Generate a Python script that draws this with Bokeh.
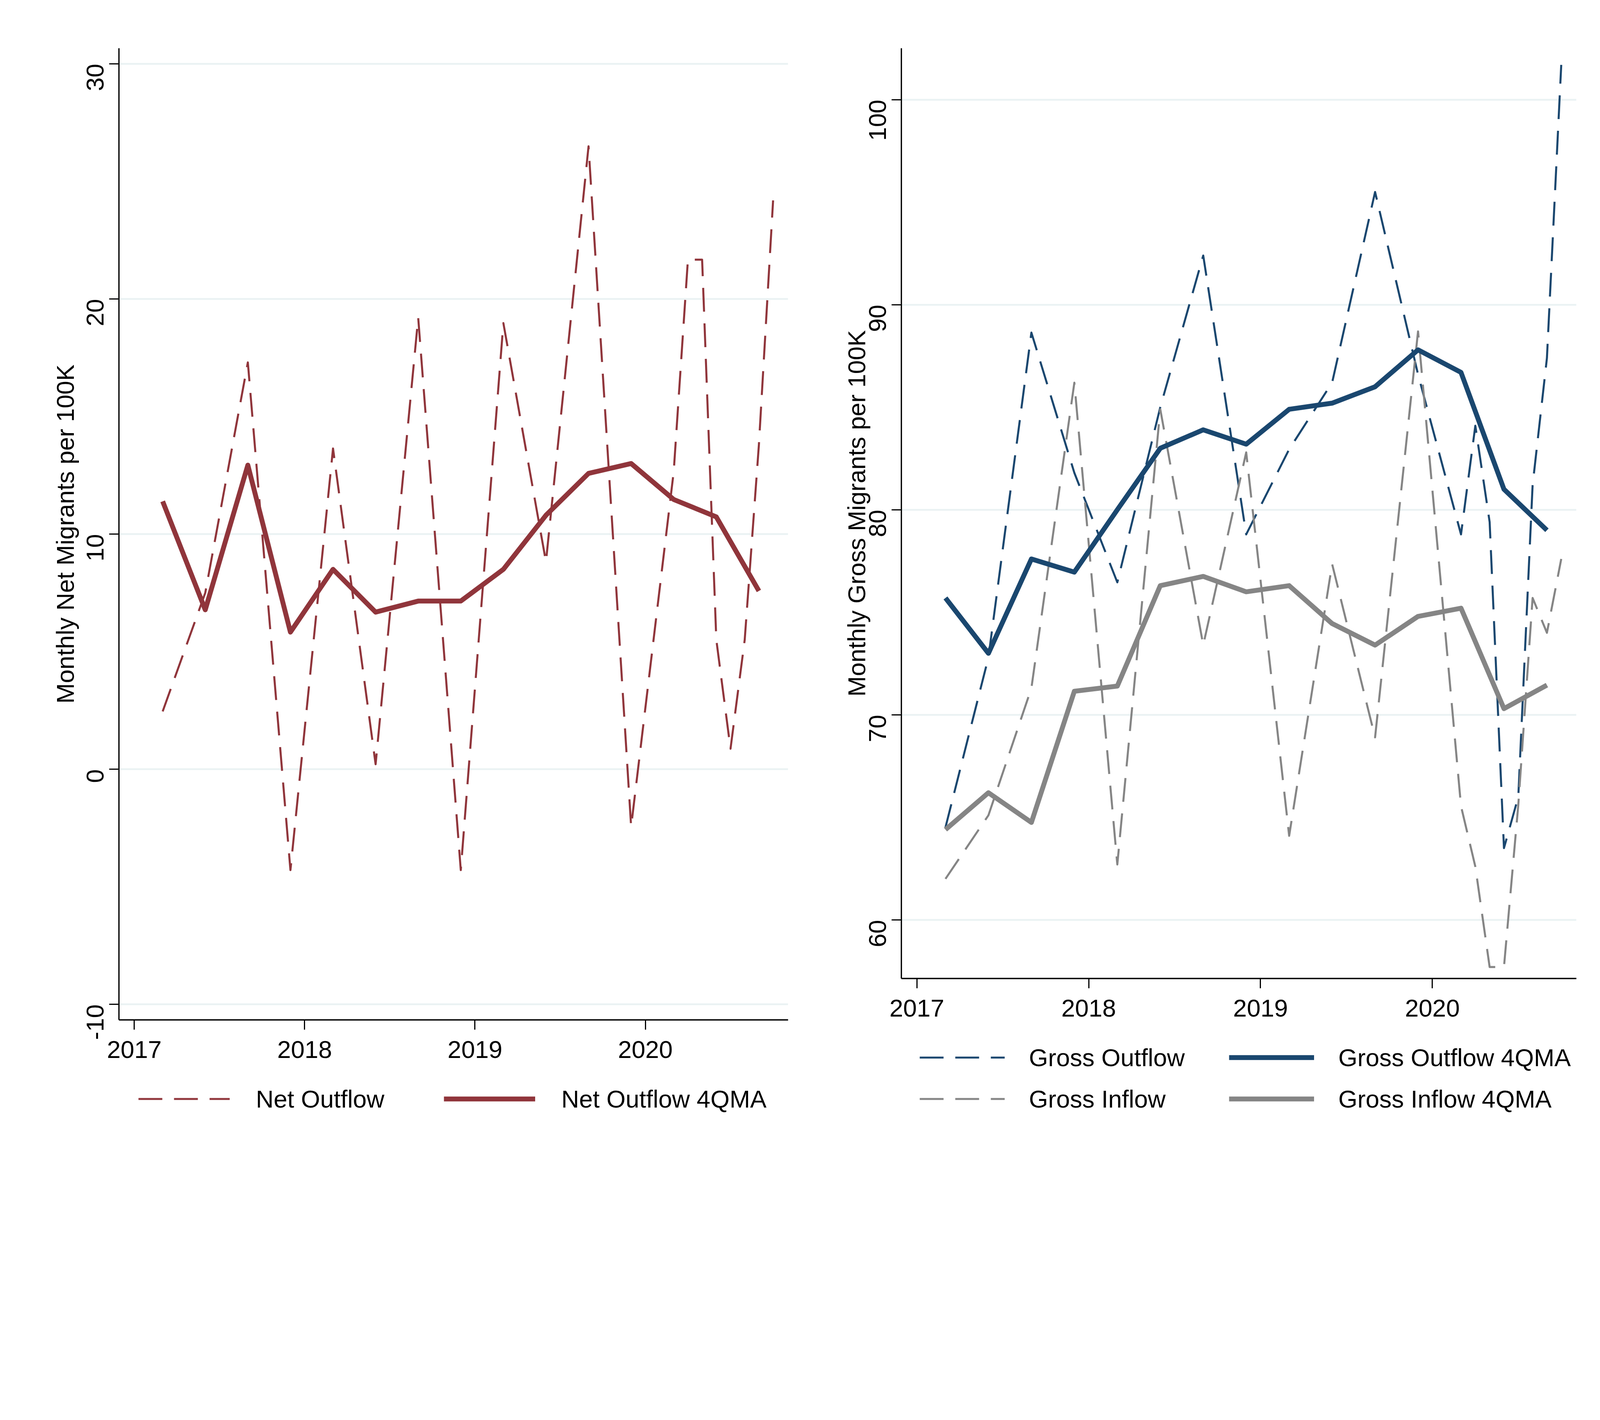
import math
from bokeh.plotting import figure
from bokeh.models import Range1d, FixedTicker, Legend, LegendItem
from bokeh.layouts import row, column
from bokeh.embed import file_html
from bokeh.resources import INLINE

# ---------------- data ----------------
ma_dates = ["2017-03", "2017-06", "2017-09", "2017-12",
            "2018-03", "2018-06", "2018-09", "2018-12",
            "2019-03", "2019-06", "2019-09", "2019-12",
            "2020-03", "2020-06", "2020-09"]

raw_dates = ["2017-03", "2017-06", "2017-09", "2017-12",
             "2018-03", "2018-06", "2018-09", "2018-12",
             "2019-03", "2019-06", "2019-09", "2019-12",
             "2020-03", "2020-04", "2020-05", "2020-06",
             "2020-07", "2020-08", "2020-09", "2020-10"]

net_outflow = [2.46, 7.5, 17.3, -4.29, 13.64, 0.21, 19.2, -4.29,
               18.97, 8.82, 26.49, -2.44, 12.66, 21.67, 21.67, 5.51,
               0.87, 5.5, 13.8, 24.19]
net_outflow_4qma = [11.39, 6.78, 12.93, 5.83, 8.5, 6.68, 7.15, 7.15,
                    8.5, 10.8, 12.58, 13.0, 11.47, 10.73, 7.58]

gross_outflow = [64.51, 72.8, 88.64, 81.8, 76.46, 85.0, 92.4, 78.8,
                 82.95, 86.2, 95.5, 86.6, 78.8, 84.1, 79.4, 63.5,
                 66.0, 81.2, 87.4, 101.7]
gross_inflow = [62.0, 65.1, 71.3, 86.2, 62.7, 84.9, 73.4, 82.8,
                64.1, 77.35, 68.9, 88.7, 65.55, 62.6, 57.7, 57.7,
                65.6, 75.7, 74.0, 77.6]
gross_outflow_4qma = [75.7, 73.0, 77.6, 76.96, 80.0, 83.0, 83.9, 83.2,
                      84.9, 85.2, 86.0, 87.8, 86.7, 81.0, 79.0]
gross_inflow_4qma = [64.4, 66.2, 64.75, 71.15, 71.4, 76.3, 76.75, 76.0,
                     76.3, 74.45, 73.4, 74.8, 75.2, 70.3, 71.45]

year_ticks = [2017, 2018, 2019, 2020]
net_ticks = [-10, 0, 10, 20, 30]
gross_ticks = [60, 70, 80, 90, 100]


def to_year(s):
    y, m = s.split("-")
    return int(y) + (int(m) - 1) / 12.0


x_ma = [to_year(d) for d in ma_dates]
x_raw = [to_year(d) for d in raw_dates]

CRAN = "#90353B"
NAVY = "#1A476F"
GRAY = "#858585"
FONT = "Liberation Sans"
FS = "63px"
DASH = "61 30"
TOTAL_H = 3012
DW = 5.2
SW = 12.5
NAN = float("nan")


def make_fig(width, height, mbl, mbr, mbb, yr, yticks, ylabel, title_standoff):
    p = figure(width=width, height=height, output_backend="svg", toolbar_location=None,
               x_range=Range1d(2016.91, 2020.838), y_range=Range1d(*yr),
               min_border_left=mbl, min_border_right=mbr,
               min_border_top=123, min_border_bottom=mbb)
    p.frame_align = False
    p.outline_line_color = None
    p.background_fill_color = "white"
    p.border_fill_color = "white"
    p.xgrid.visible = False
    p.ygrid.grid_line_color = "#EAF2F3"
    p.ygrid.grid_line_width = 4.6
    p.xaxis.ticker = FixedTicker(ticks=year_ticks)
    p.yaxis.ticker = FixedTicker(ticks=yticks)
    for ax in (p.xaxis[0], p.yaxis[0]):
        ax.axis_line_width = 3.3
        ax.axis_line_color = "black"
        ax.major_tick_line_width = 3
        ax.major_tick_line_color = "black"
        ax.major_tick_out = 25
        ax.major_tick_in = 0
        ax.minor_tick_out = 0
        ax.minor_tick_in = 0
        ax.major_label_text_font = FONT
        ax.major_label_text_font_size = FS
        ax.major_label_text_color = "black"
    p.xaxis.major_label_standoff = 29
    p.yaxis.major_label_standoff = 36
    p.yaxis.major_label_orientation = math.pi / 2
    p.yaxis.major_label_overrides = {t: str(t) for t in yticks}
    p.yaxis.axis_label = ylabel
    p.yaxis.axis_label_text_font = FONT
    p.yaxis.axis_label_text_font_size = FS
    p.yaxis.axis_label_text_font_style = "normal"
    p.yaxis.axis_label_text_color = "black"
    p.yaxis.axis_label_standoff = title_standoff
    return p


def legend_fig(width, height, entries, loc, glyph_w, standoff, label_w):
    lf = figure(width=width, height=height, output_backend="svg", toolbar_location=None,
                x_range=Range1d(0, 1), y_range=Range1d(0, 1),
                x_axis_type=None, y_axis_type=None,
                min_border_left=0, min_border_right=0,
                min_border_top=0, min_border_bottom=0)
    lf.frame_align = False
    lf.outline_line_color = None
    lf.grid.visible = False
    lf.background_fill_color = "white"
    lf.border_fill_color = "white"
    items = []
    for label, color, width_, dash in entries:
        kw = dict(line_color=color, line_width=width_)
        if dash:
            kw["line_dash"] = DASH
        # legend-only renderer: a single NaN point, nothing is drawn in the frame
        r = lf.line(x=[NAN], y=[NAN], **kw)
        items.append(LegendItem(label=label, renderers=[r]))
    leg = Legend(items=items, orientation="horizontal", ncols=2, location=loc,
                 glyph_width=glyph_w, glyph_height=83, label_height=83,
                 label_standoff=standoff, label_width=label_w, spacing=23,
                 padding=0, margin=0, border_line_color=None,
                 background_fill_alpha=0,
                 label_text_font=FONT, label_text_font_size=FS,
                 label_text_color="black")
    lf.add_layout(leg)
    return lf


# ---------------- left panel ----------------
H1 = 2760
p1 = make_fig(2132, H1, 304, 115, 149, (-10.66, 30.66), net_ticks,
              "Monthly Net Migrants per 100K", -4)
p1.line(x_raw, net_outflow, line_color=CRAN, line_width=DW, line_dash=DASH,
        line_join="round")
p1.line(x_ma, net_outflow_4qma, line_color=CRAN, line_width=SW,
        line_join="round")
lf1 = legend_fig(2132, TOTAL_H - H1,
                 [("Net Outflow", CRAN, DW, True),
                  ("Net Outflow 4QMA", CRAN, SW, False)],
                 (354, 157), 234, 67, 458)

# ---------------- right panel ----------------
H2 = 2645
p2 = make_fig(2020, H2, 175, 117, 140, (57.14, 102.51), gross_ticks,
              "Monthly Gross Migrants per 100K", -27)
p2.line(x_raw, gross_outflow, line_color=NAVY, line_width=DW, line_dash=DASH,
        line_join="round")
p2.line(x_raw, gross_inflow, line_color=GRAY, line_width=DW, line_dash=DASH,
        line_join="round")
p2.line(x_ma, gross_outflow_4qma, line_color=NAVY, line_width=SW,
        line_join="round")
p2.line(x_ma, gross_inflow_4qma, line_color=GRAY, line_width=SW,
        line_join="round")
lf2 = legend_fig(2020, TOTAL_H - H2,
                 [("Gross Outflow", NAVY, DW, True),
                  ("Gross Outflow 4QMA", NAVY, SW, False),
                  ("Gross Inflow", GRAY, DW, True),
                  ("Gross Inflow 4QMA", GRAY, SW, False)],
                 (222, 157), 218, 62, 489)

layout = row(column(p1, lf1), column(p2, lf2))
open("out.html", "w").write(file_html(layout, INLINE))
